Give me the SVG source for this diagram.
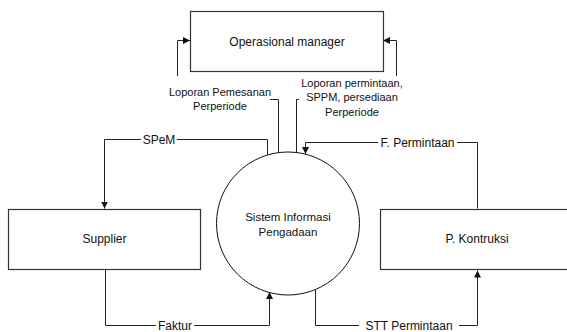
<svg xmlns="http://www.w3.org/2000/svg" width="567" height="332" viewBox="0 0 567 332">
  <style>
    .box { fill: #ffffff; stroke: #333333; stroke-width: 1.2; }
    .proc { fill: #ffffff; stroke: #111111; stroke-width: 1; }
    .flow { fill: none; stroke: #222222; stroke-width: 1; }
    .node-text { font-family: "Liberation Sans", Arial, sans-serif; font-size: 12px; fill: #111111; text-anchor: middle; }
    .proc-text { font-family: "Liberation Sans", Arial, sans-serif; font-size: 11.5px; fill: #111111; text-anchor: middle; }
    .label { font-family: "Liberation Sans", Arial, sans-serif; font-size: 12px; fill: #111111; text-anchor: middle; }
    .label-sm { font-family: "Liberation Sans", Arial, sans-serif; font-size: 11px; fill: #111111; text-anchor: middle; }
    .label-bg { fill: #ffffff; stroke: none; }
  </style>
  <defs>
    <marker id="arrow" markerUnits="userSpaceOnUse" markerWidth="8" markerHeight="8" refX="7" refY="3.5" orient="auto">
      <path d="M0,0 L7,3.5 L0,7 z" fill="#111111"/>
    </marker>
  </defs>

  <rect width="567" height="332" fill="#ffffff"/>

  <!-- data flows -->
  <g id="connectors">
    <!-- SPeM: process -> Supplier -->
    <path class="flow" d="M267.5,155 V139.5 H104.5 V208.5" marker-end="url(#arrow)"/>
    <rect class="label-bg" x="141" y="132" width="36" height="14"/>
    <text class="label" x="159" y="143.5">SPeM</text>

    <!-- F. Permintaan: P. Kontruksi -> process -->
    <path class="flow" d="M477.5,208.5 V142.5 H305.5 V154" marker-end="url(#arrow)"/>
    <rect class="label-bg" x="378" y="135" width="79" height="14"/>
    <text class="label" x="417.5" y="146.5">F. Permintaan</text>

    <!-- Faktur: Supplier -> process -->
    <path class="flow" d="M105.5,269.5 V325.5 H269.5 V292" marker-end="url(#arrow)"/>
    <rect class="label-bg" x="156" y="318" width="38" height="14"/>
    <text class="label" x="175" y="329.5">Faktur</text>

    <!-- STT Permintaan: process -> P. Kontruksi -->
    <path class="flow" d="M315.5,289 V325.5 H477.5 V270.5" marker-end="url(#arrow)"/>
    <rect class="label-bg" x="359" y="318" width="100" height="14"/>
    <text class="label" x="409" y="329.5">STT Permintaan</text>

    <!-- Loporan Pemesanan Perperiode: process -> Operasional manager -->
    <path class="flow" d="M278.5,153 V99.5 H177.5 V40.5 H190" marker-end="url(#arrow)"/>
    <rect class="label-bg" x="169" y="76" width="101" height="36"/>
    <text class="label-sm" x="220" y="95.5">Loporan Pemesanan</text>
    <text class="label-sm" x="220" y="109.5">Perperiode</text>

    <!-- Loporan permintaan, SPPM, persediaan Perperiode: process -> Operasional manager -->
    <path class="flow" d="M296.5,153 V99.5 H396.5 V40.5 H383" marker-end="url(#arrow)"/>
    <rect class="label-bg" x="299" y="76" width="106" height="42"/>
    <text class="label-sm" x="352" y="87">Loporan permintaan,</text>
    <text class="label-sm" x="352" y="101">SPPM, persediaan</text>
    <text class="label-sm" x="352" y="115.5">Perperiode</text>
  </g>

  <g id="operasional-manager">
    <rect class="box" x="190.5" y="11.5" width="193" height="60"/>
    <text class="node-text" x="287" y="45.5">Operasional manager</text>
  </g>

  <g id="supplier">
    <rect class="box" x="8.5" y="209.5" width="192" height="60"/>
    <text class="node-text" x="104.5" y="242.5">Supplier</text>
  </g>

  <g id="p-kontruksi">
    <rect class="box" x="380.5" y="209.5" width="192" height="60"/>
    <text class="node-text" x="477" y="242.5">P. Kontruksi</text>
  </g>

  <g id="sistem-informasi-pengadaan">
    <circle class="proc" cx="288" cy="223.5" r="71.5"/>
    <text class="proc-text" x="288" y="221">Sistem Informasi</text>
    <text class="proc-text" x="288" y="236">Pengadaan</text>
  </g>
</svg>
